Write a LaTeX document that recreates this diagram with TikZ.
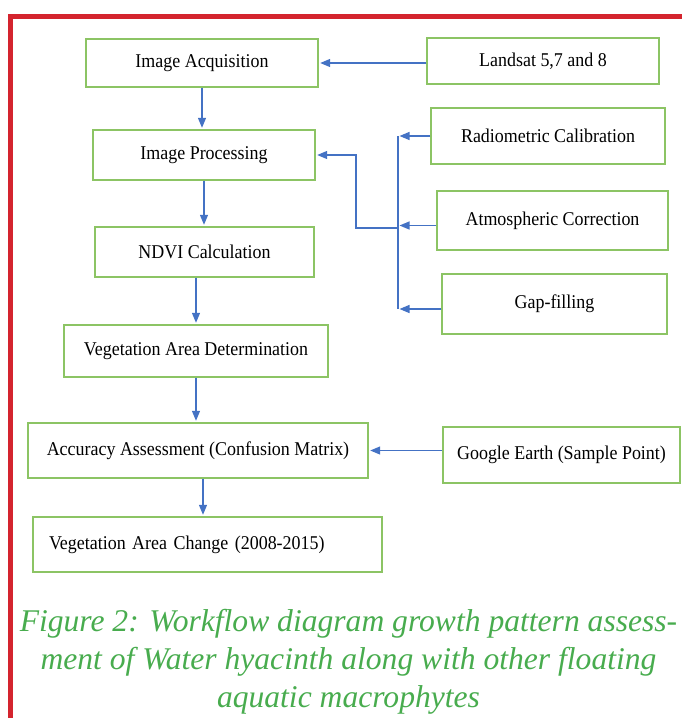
\documentclass[tikz,border=0pt]{standalone}
\usepackage{fontspec}
\setmainfont{Liberation Serif}
\newfontfamily\boxfont{Liberation Serif}[FakeStretch=0.92]
\usetikzlibrary{positioning}
\usetikzlibrary{arrows.meta}
\definecolor{boxgreen}{RGB}{140,196,100}
\definecolor{arrowblue}{RGB}{68,114,196}
\definecolor{framered}{RGB}{212,36,46}
\definecolor{capgreen}{RGB}{72,172,78}
\tikzset{
    flownode/.style = {rectangle, draw=boxgreen, line width=1.4pt, fill=white, align=center},
    edgeb/.style = {-{Triangle[length=10pt,width=8pt]}, line width=1.3pt, arrowblue, shorten >=1.5pt}, % arrow
    busline/.style = {line width=1.3pt, arrowblue}, % shared line
    frame/.style = {line width=5pt, framered},
    capnode/.style = {align=center, text=capgreen, font=\rmfamily\itshape\fontsize{31.6}{38}\selectfont}
}

\begin{document}
\begin{tikzpicture}[x=1pt,y=-1pt,
    font=\boxfont\fontsize{19.5}{22}\selectfont]
  \useasboundingbox (0,0) rectangle (681,718);
  \draw[frame] (10.5,730) |- (690,16.5);

  % main column
  \node[flownode, minimum width=232pt, minimum height=48pt] at (202,63) (acq) {Image Acquisition};
  \node[flownode, minimum width=222pt, minimum height=50pt] at (204,155) (proc) {Image Processing};
  \node[flownode, minimum width=219pt, minimum height=50pt] at (204.5,252) (ndvi) {NDVI Calculation};
  \node[flownode, minimum width=264pt, minimum height=52pt] at (196,351) (veg) {Vegetation Area Determination};
  \node[flownode, minimum width=340pt, minimum height=55pt] at (198,450.5) (acc) {Accuracy Assessment (Confusion Matrix)};
  \node[flownode, minimum width=349pt, minimum height=55pt, inner xsep=16pt, text width=317pt, align=left] at (207.5,544.5) (chg) {Vegetation Area Change (2008-2015)};

  % inputs
  \node[flownode, minimum width=232pt, minimum height=46pt] at (543,61) (land) {Landsat 5,7 and 8};
  \node[flownode, minimum width=234pt, minimum height=56pt] at (548,136) (rad) {Radiometric Calibration};
  \node[flownode, minimum width=231pt, minimum height=59pt] at (552.5,220.5) (atm) {Atmospheric Correction};
  \node[flownode, minimum width=225pt, minimum height=60pt] at (554.5,304) (gap) {Gap-filling};
  \node[flownode, minimum width=237pt, minimum height=56pt] at (561.5,455) (goo) {Google Earth (Sample Point)};

  % flow
  \draw[edgeb] (land.west |- acq.east) -- (acq.east);
  \draw[edgeb] (acq.south) -- (acq.south |- proc.north);
  \draw[edgeb] (proc.south) -- (proc.south |- ndvi.north);
  \draw[edgeb] (ndvi.south -| veg.north) -- (veg.north);
  \draw[edgeb] (veg.south) -- (veg.south |- acc.north);
  \draw[edgeb] ([xshift=5pt]acc.south) -- ([xshift=5pt]acc.south |- chg.north);
  \draw[edgeb] (goo.west |- acc.east) -- (acc.east);

  % processing steps
  \coordinate (bus) at (398,0);
  \coordinate (junc) at (398,228);
  \coordinate (elbow) at (356,228);
  \draw[busline] (rad.west -| bus) -- ([yshift=-5pt]gap.west -| bus);
  \draw[edgeb] (rad.west) -- (rad.west -| bus);
  \draw[edgeb] ([yshift=-5pt]atm.west) -- ([yshift=-5pt]atm.west -| bus);
  \draw[edgeb] ([yshift=-5pt]gap.west) -- ([yshift=-5pt]gap.west -| bus);
  \draw[edgeb] (junc) -- (elbow) |- (proc.east);

  \node[capnode] at (348.5,662) (cap) {Figure 2: Workflow diagram growth pattern assess-\\ment of Water hyacinth along with other floating\\aquatic macrophytes};
\end{tikzpicture}
\end{document}
